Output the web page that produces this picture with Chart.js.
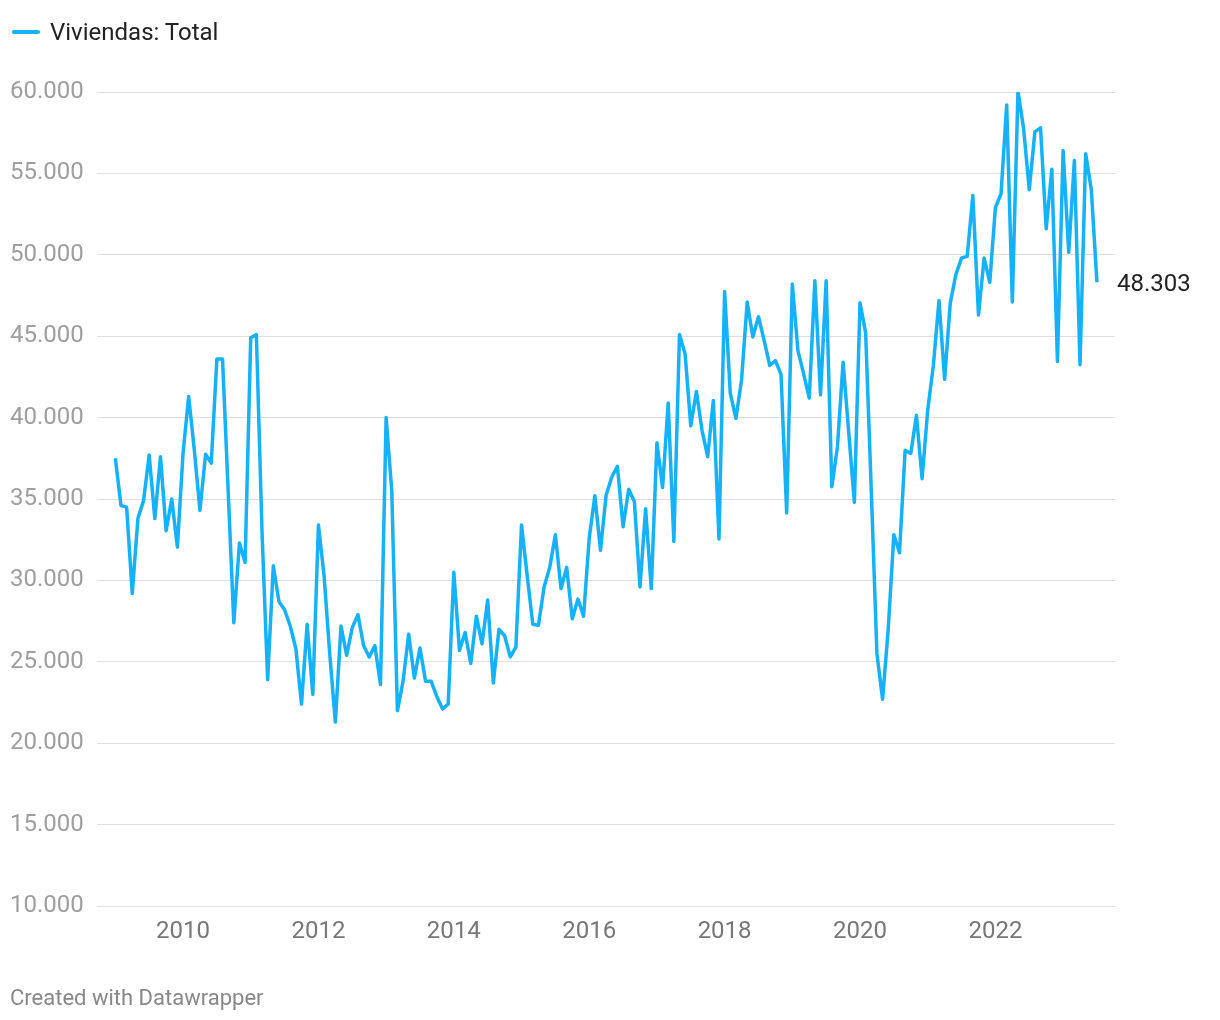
<!DOCTYPE html>
<html>
<head>
<meta charset="utf-8">
<script src="https://cdn.jsdelivr.net/npm/chart.js@4"></script>
<style>
  body { margin: 0; background: #fff; font-family: Roboto, sans-serif; }
  #wrap { position: relative; width: 1220px; height: 1020px; }
  #legend { position: absolute; left: 12px; top: 16px; height: 32px; display: flex; align-items: center; font-size: 24px; color: #222; }
  #legend .swatch { width: 28px; height: 4px; border-radius: 2px; background: #15b1f9; margin-right: 10px; }
  #footer { position: absolute; left: 10px; top: 985px; font-size: 22px; color: #888; }
</style>
</head>
<body>
<div id="wrap">
  <canvas id="chart" width="1220" height="1020"></canvas>
  <div id="legend"><span class="swatch"></span><span>Viviendas: Total</span></div>
  <div id="footer">Created with Datawrapper</div>
</div>
<script>
// monthly values, Jan..Dec per year
const v2009 = [37500, 34600, 34500, 29200, 33800, 34900, 37700, 33800, 37600, 33050, 35000, 32050];
const v2010 = [37800, 41300, 38000, 34300, 37750, 37200, 43600, 43600, 35500, 27400, 32300, 31100];
const v2011 = [44900, 45100, 33000, 23900, 30900, 28700, 28200, 27200, 25800, 22400, 27300, 23000];
const v2012 = [33400, 30300, 25500, 21300, 27200, 25400, 27100, 27900, 26000, 25300, 26000, 23600];
const v2013 = [40000, 35500, 22000, 23800, 26700, 24000, 25850, 23800, 23800, 22850, 22100, 22400];
const v2014 = [30500, 25700, 26800, 24900, 27800, 26100, 28800, 23700, 27000, 26600, 25300, 25900];
const v2015 = [33400, 30300, 27300, 27250, 29600, 30800, 32800, 29500, 30800, 27650, 28850, 27800];
const v2016 = [32600, 35200, 31850, 35250, 36350, 37000, 33300, 35600, 34850, 29600, 34400, 29500];
const v2017 = [38450, 35700, 40900, 32400, 45100, 43900, 39500, 41600, 39200, 37600, 41050, 32550];
const v2018 = [47750, 41500, 39950, 42300, 47100, 44950, 46200, 44750, 43200, 43500, 42650, 34150];
const v2019 = [48200, 44100, 42700, 41200, 48400, 41400, 48400, 35750, 38200, 43400, 39100, 34800];
const v2020 = [47050, 45200, 35500, 25500, 22700, 27000, 32800, 31700, 38000, 37800, 40150, 36250];
const v2021 = [40450, 43200, 47200, 42350, 47050, 48800, 49800, 49900, 53650, 46300, 49800, 48300];
const v2022 = [52900, 53750, 59200, 47100, 60050, 57750, 54000, 57550, 57800, 51600, 55250, 43450];
const v2023 = [56400, 50150, 55800, 43250, 56200, 54000, 48303];

const years = [2009, 2010, 2011, 2012, 2013, 2014, 2015, 2016, 2017, 2018, 2019, 2020, 2021, 2022, 2023];
const byYear = [v2009, v2010, v2011, v2012, v2013, v2014, v2015, v2016, v2017, v2018, v2019, v2020, v2021, v2022, v2023];
const yearTicks = [2010, 2012, 2014, 2016, 2018, 2020, 2022];

const points = [];
byYear.forEach((arr, i) => {
  arr.forEach((v, m) => points.push({ x: years[i] + m / 12, y: v }));
});

const lineColor = '#15b1f9';
const fmt = v => String(Math.round(v)).replace(/\B(?=(\d{3})+(?!\d))/g, '.');

const endLabel = {
  id: 'endLabel',
  afterDatasetsDraw(chart) {
    const meta = chart.getDatasetMeta(0);
    const last = meta.data[meta.data.length - 1];
    const ctx = chart.ctx;
    ctx.save();
    ctx.font = '24px Roboto';
    ctx.fillStyle = '#222';
    ctx.textAlign = 'left';
    ctx.textBaseline = 'middle';
    ctx.fillText(fmt(points[points.length - 1].y), last.x + 20, last.y + 3);
    ctx.restore();
  }
};

new Chart(document.getElementById('chart'), {
  type: 'line',
  data: {
    datasets: [{
      label: 'Viviendas: Total',
      data: points,
      borderColor: lineColor,
      borderWidth: 3.5,
      pointRadius: 0,
      tension: 0,
      borderJoinStyle: 'round'
    }]
  },
  options: {
    responsive: false,
    animation: false,
    layout: { padding: { left: 10, right: 105, top: 92, bottom: 64 } },
    plugins: { legend: { display: false }, tooltip: { enabled: false } },
    scales: {
      x: {
        type: 'linear',
        min: 2009 - 3.25 / 12,
        max: 2023.5 + 3.2 / 12,
        afterBuildTicks: s => { s.ticks = yearTicks.map(v => ({ value: v })); },
        afterFit: s => { s.height = 50; },
        grid: { display: false },
        border: { display: false },
        ticks: {
          padding: 4,
          color: '#777',
          font: { family: 'Roboto', size: 24 },
          callback: v => String(v)
        }
      },
      y: {
        min: 10000,
        max: 60000,
        afterFit: s => { s.width = 87; },
        grid: { color: '#dedede', lineWidth: 1, drawTicks: false },
        border: { display: false },
        ticks: {
          stepSize: 5000,
          crossAlign: 'far',
          color: '#9e9e9e',
          font: { family: 'Roboto', size: 24 },
          callback: v => fmt(v)
        }
      }
    }
  },
  plugins: [endLabel]
});
</script>
</body>
</html>
